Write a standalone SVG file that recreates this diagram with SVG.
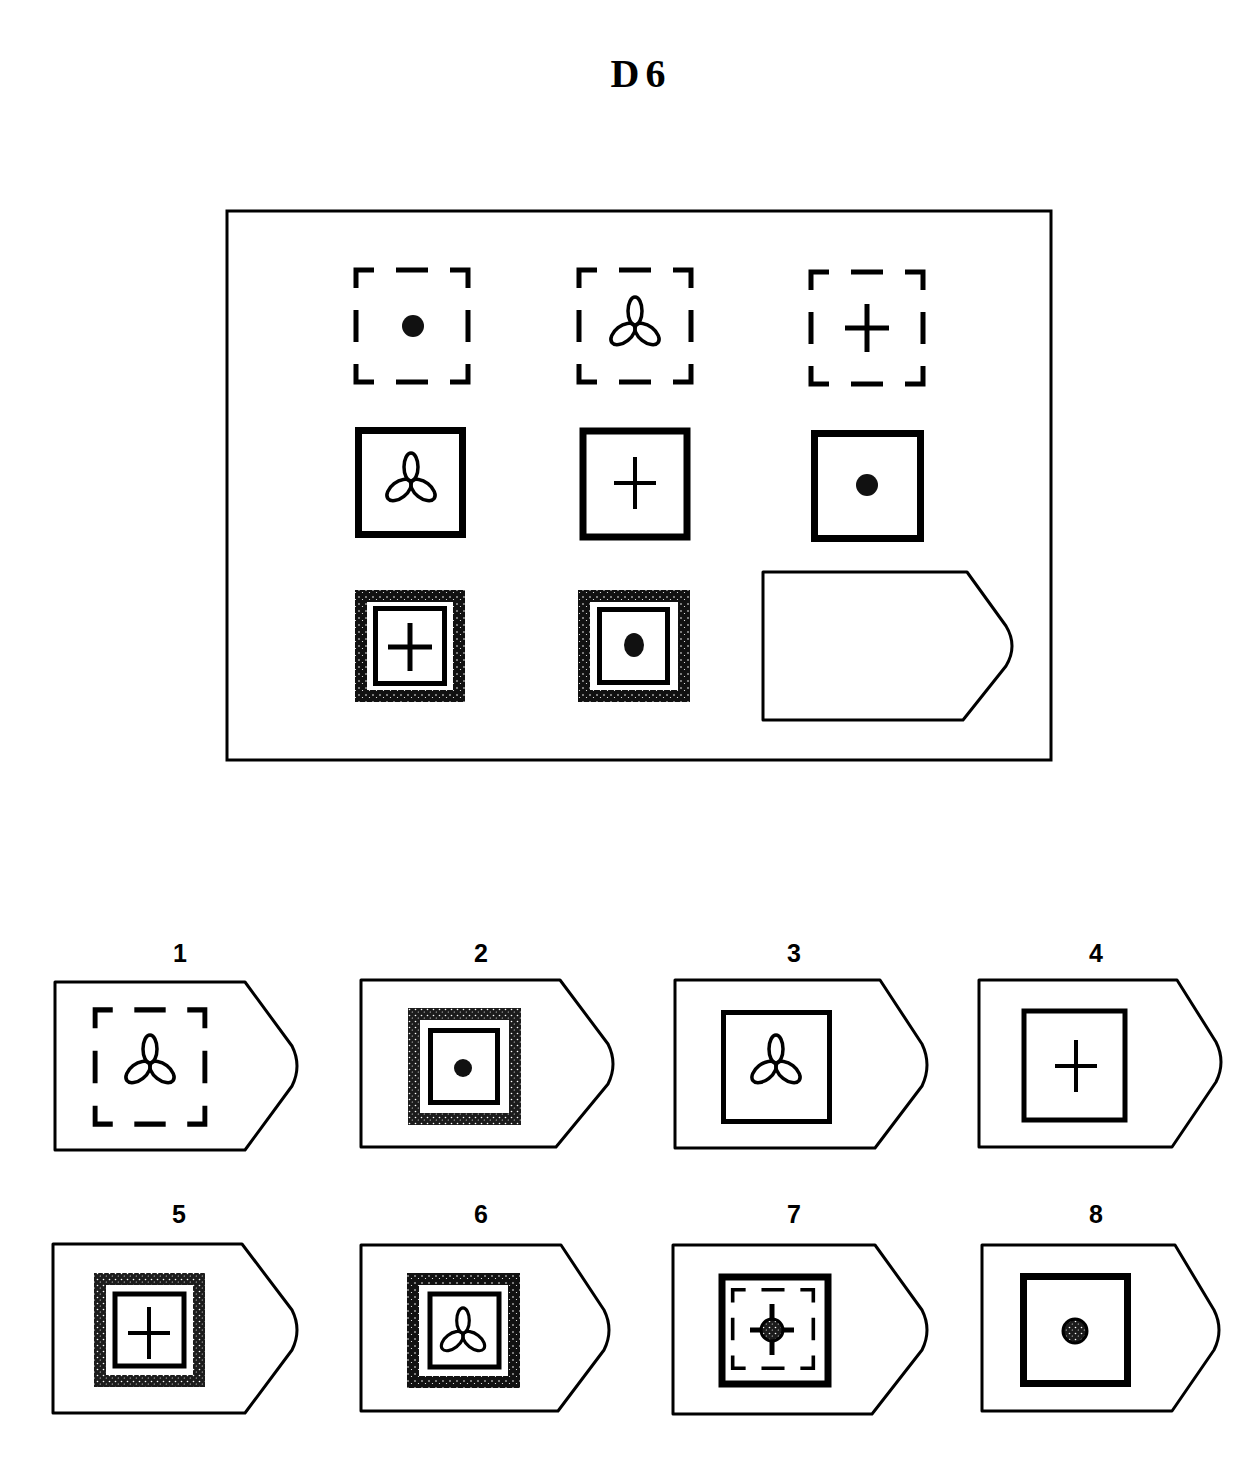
<svg xmlns="http://www.w3.org/2000/svg" width="1257" height="1473" viewBox="0 0 1257 1473">
<style>
.frame{fill:none;stroke:#000;stroke-width:3}
.tab{fill:#fff;stroke:#000;stroke-width:3;stroke-linejoin:round}
.sq{fill:#fff;stroke:#000;stroke-width:7}
.sqt{fill:#fff;stroke:#000;stroke-width:5}
.dash{fill:none;stroke:#000;stroke-width:5;stroke-linecap:butt}
.lbl{font-family:"Liberation Sans",Arial,sans-serif;font-weight:bold;font-size:25px;text-anchor:middle;fill:#000}
.title{font-family:"Liberation Serif","Times New Roman",serif;font-weight:bold;font-size:40px;text-anchor:middle;fill:#000;letter-spacing:6px}
</style>
<defs>
<pattern id="grain" width="7" height="7" patternUnits="userSpaceOnUse">
<rect width="7" height="7" fill="#111"/>
<circle cx="2" cy="2" r="0.8" fill="#fff"/>
<circle cx="5.5" cy="4.5" r="0.6" fill="#fff"/>
</pattern>
<pattern id="grain2" width="6" height="6" patternUnits="userSpaceOnUse">
<rect width="6" height="6" fill="#1c1c1c"/>
<circle cx="1.5" cy="1.5" r="0.8" fill="#fff"/>
<circle cx="4.3" cy="4" r="0.6" fill="#eee"/>
</pattern>
<g id="trefoil" fill="none" stroke="#000" stroke-width="3.5">
<ellipse cx="0" cy="-14" rx="7" ry="14"/>
<ellipse cx="-12" cy="9" rx="14" ry="8" transform="rotate(-38 -12 9)"/>
<ellipse cx="12" cy="9" rx="14" ry="8" transform="rotate(38 12 9)"/>
</g>
<g id="plus" stroke="#000" stroke-width="5" stroke-linecap="butt">
<line x1="-22" y1="0" x2="22" y2="0"/>
<line x1="0" y1="-24" x2="0" y2="24"/>
</g>
<g id="plusthin" stroke="#000" stroke-width="4">
<line x1="-21" y1="0" x2="21" y2="0"/>
<line x1="0" y1="-26" x2="0" y2="26"/>
</g>
<circle id="dot" r="11" fill="#111"/>
<path id="dsq" class="dash" d="M-56,-38 V-56 H-38 M-16,-56 H16 M38,-56 H56 V-38 M56,-16 V16 M56,38 V56 H38 M16,56 H-16 M-38,56 H-56 V38 M-56,16 V-16"/>
</defs>

<text class="title" x="641" y="87">D6</text>

<g id="matrix">
<rect class="frame" x="227" y="211" width="824" height="549"/>
<g id="cell-1-1"><use href="#dsq" x="412" y="326"/><use href="#dot" x="413" y="326"/></g>
<g id="cell-1-2"><use href="#dsq" x="635" y="326"/><use href="#trefoil" x="635" y="325"/></g>
<g id="cell-1-3"><use href="#dsq" x="867" y="328"/><use href="#plus" x="867" y="328"/></g>
<g id="cell-2-1"><rect class="sq" x="358.5" y="430.5" width="104" height="104"/><use href="#trefoil" x="411" y="481"/></g>
<g id="cell-2-2"><rect class="sq" x="583" y="431" width="104" height="106" stroke-width="6"/><use href="#plusthin" x="635" y="483"/></g>
<g id="cell-2-3"><rect class="sq" x="814.5" y="433.5" width="106" height="105"/><use href="#dot" x="867" y="485"/></g>
<g id="cell-3-1">
<rect x="355" y="590" width="110" height="112" fill="url(#grain)"/>
<rect x="367" y="602" width="86" height="88" fill="#fff"/>
<rect class="sqt" x="375.5" y="608.5" width="69" height="75"/>
<use href="#plus" x="410" y="647"/>
</g>
<g id="cell-3-2">
<rect x="578" y="590" width="112" height="112" fill="url(#grain)"/>
<rect x="590" y="602" width="88" height="88" fill="#fff"/>
<rect class="sqt" x="599.5" y="609.5" width="68" height="73"/>
<ellipse cx="634" cy="645" rx="10" ry="12" fill="#111"/>
</g>
<g id="cell-3-3"><path class="tab" d="M763,572 L967,572 L1006,626 Q1018,646 1006,666 L963,720 L763,720 Z"/></g>
</g>

<g id="options">
<g id="opt-1">
<text class="lbl" x="180" y="962">1</text>
<path class="tab" d="M55,982 L245,982 L292,1046 Q302,1066 292,1086 L245,1150 L55,1150 Z"/>
<use href="#dsq" x="150" y="1067" transform="translate(150 1067) scale(0.98 1.02) translate(-150 -1067)"/>
<use href="#trefoil" x="150" y="1063"/>
</g>
<g id="opt-2">
<text class="lbl" x="481" y="962">2</text>
<path class="tab" d="M361,980 L560,980 L608,1044 Q618,1064 608,1084 L556,1147 L361,1147 Z"/>
<rect x="408" y="1008" width="113" height="117" fill="url(#grain2)"/>
<rect x="420" y="1020" width="89" height="93" fill="#fff"/>
<rect class="sqt" x="430.5" y="1030.5" width="67" height="72"/>
<circle cx="463" cy="1068" r="9" fill="#111"/>
</g>
<g id="opt-3">
<text class="lbl" x="794" y="962">3</text>
<path class="tab" d="M675,980 L880,980 L922,1044 Q932,1065 922,1086 L875,1148 L675,1148 Z"/>
<rect class="sqt" x="723.5" y="1012.5" width="106" height="109" stroke-width="6"/>
<use href="#trefoil" x="776" y="1063"/>
</g>
<g id="opt-4">
<text class="lbl" x="1096" y="962">4</text>
<path class="tab" d="M979,980 L1177,980 L1216,1042 Q1226,1062 1216,1082 L1172,1147 L979,1147 Z"/>
<rect class="sqt" x="1024" y="1011" width="101" height="109" stroke-width="6"/>
<use href="#plusthin" x="1076" y="1066"/>
</g>
<g id="opt-5">
<text class="lbl" x="179" y="1223">5</text>
<path class="tab" d="M53,1244 L242,1244 L292,1310 Q302,1330 292,1350 L245,1413 L53,1413 Z"/>
<rect x="94" y="1273" width="111" height="114" fill="url(#grain2)"/>
<rect x="106" y="1285" width="87" height="90" fill="#fff"/>
<rect class="sqt" x="115" y="1294" width="69" height="72" stroke-width="4"/>
<use href="#plusthin" x="149" y="1333"/>
</g>
<g id="opt-6">
<text class="lbl" x="481" y="1223">6</text>
<path class="tab" d="M361,1245 L561,1245 L604,1310 Q614,1330 604,1350 L558,1411 L361,1411 Z"/>
<rect x="407" y="1273" width="113" height="115" fill="url(#grain)"/>
<rect x="419" y="1285" width="89" height="91" fill="#fff"/>
<rect class="sqt" x="430" y="1294" width="69" height="73" stroke-width="4"/>
<use href="#trefoil" x="0" y="0" transform="translate(463 1333) scale(0.9)"/>
</g>
<g id="opt-7">
<text class="lbl" x="794" y="1223">7</text>
<path class="tab" d="M673,1245 L875,1245 L922,1310 Q932,1330 922,1350 L872,1414 L673,1414 Z"/>
<rect class="sq" x="722" y="1277" width="106" height="107" stroke-width="8"/>
<use href="#dsq" x="0" y="0" transform="translate(773 1329) scale(0.72 0.7)"/>
<g stroke="#000" stroke-width="5"><line x1="750" y1="1330" x2="794" y2="1330"/><line x1="772" y1="1304" x2="772" y2="1355"/></g>
<circle cx="772" cy="1330" r="11" fill="url(#grain2)" stroke="#000" stroke-width="3"/>
</g>
<g id="opt-8">
<text class="lbl" x="1096" y="1223">8</text>
<path class="tab" d="M982,1245 L1175,1245 L1214,1310 Q1224,1330 1214,1350 L1172,1411 L982,1411 Z"/>
<rect class="sq" x="1023.5" y="1276.5" width="104" height="107"/>
<circle cx="1075" cy="1331" r="12" fill="url(#grain2)" stroke="#000" stroke-width="3"/>
</g>
</g>
</svg>
